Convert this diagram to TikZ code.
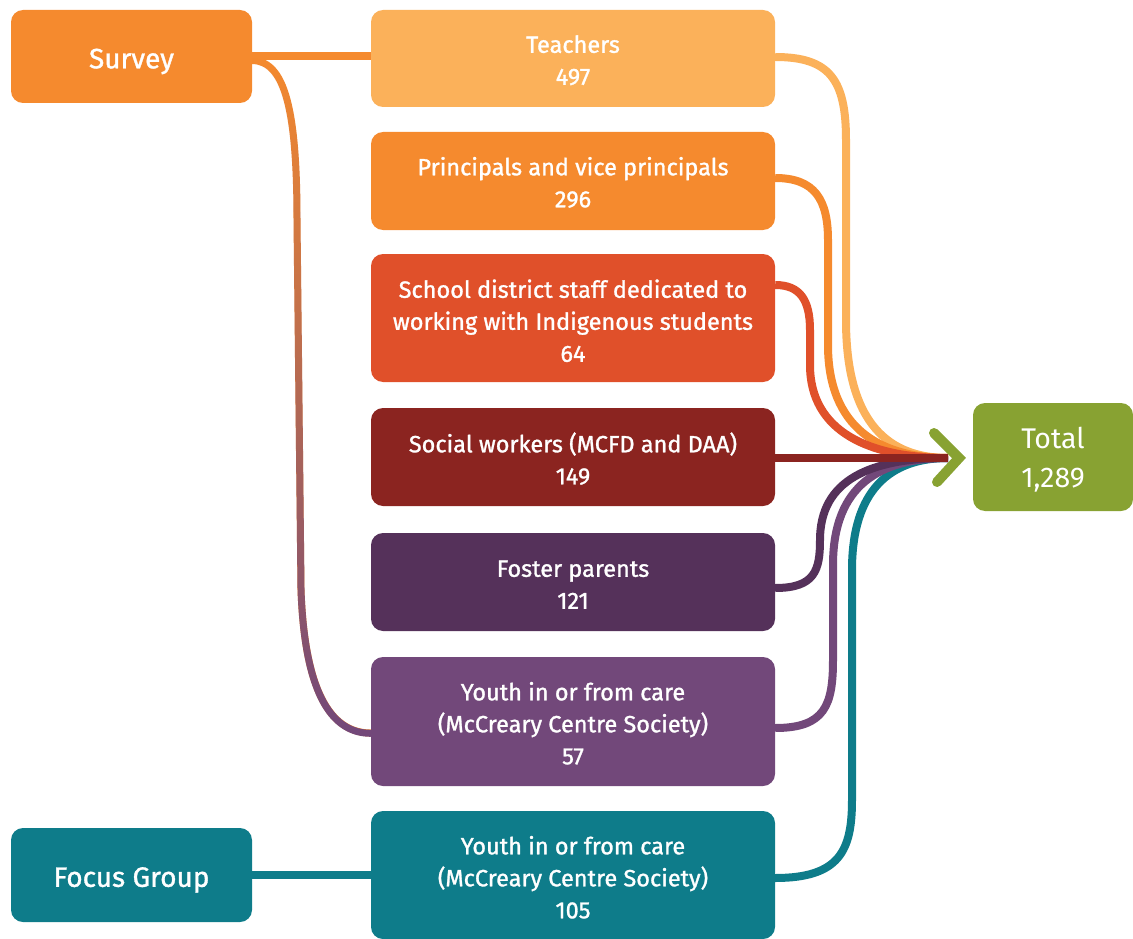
\documentclass[tikz,border=0pt]{standalone}
\usepackage{fontspec}
\setmainfont{Fira Sans}
\newfontfamily\medf{Fira Sans}[FakeBold=1.2]
\usetikzlibrary{calc,fadings}
\definecolor{lorange}{HTML}{FBB15A}
\definecolor{morange}{HTML}{F58A2E}
\definecolor{dred}{HTML}{E0502A}
\definecolor{maroon}{HTML}{8B2420}
\definecolor{dpurple}{HTML}{55315A}
\definecolor{mpurple}{HTML}{72487A}
\definecolor{teal}{HTML}{0E7C8A}
\definecolor{tgreen}{HTML}{88A232}
\tikzfading[name=fadedown, top color=transparent!100, middle color=transparent!80, bottom color=transparent!0]
\newcommand{\lowtext}[2]{\raisebox{-#1}[\height][\depth]{\begin{tabular}{@{}c@{}}#2\end{tabular}}}
\begin{document}
\begin{tikzpicture}[x=1pt,y=-1pt,
  box/.style={rectangle, rounded corners=12pt, inner sep=0pt, text=white, align=center, anchor=center},
  midbox/.style={box, minimum width=404pt, font=\medf\fontsize{23.5}{31.5}\selectfont},
  sidebox/.style={box, minimum width=241pt, font=\medf\fontsize{28}{34}\selectfont},
  conn/.style={line width=8pt},
]
\useasboundingbox (0,0) rectangle (1133,939);
% nodes
\node[sidebox, fill=morange, minimum height=93pt] (survey) at (131.5,56.5) {\lowtext{5pt}{Survey}};
\node[sidebox, fill=teal, minimum height=94pt] (focus) at (131.5,875) {\lowtext{5pt}{Focus Group}};
\node[midbox, fill=lorange, minimum height=97pt] (t) at (573,58.5) {\lowtext{4pt}{Teachers\\[0.5pt]497}};
\node[midbox, fill=morange, minimum height=98pt] (p) at (573,181) {\lowtext{4pt}{Principals and vice principals\\[0.5pt]296}};
\node[midbox, fill=dred, minimum height=128pt] (d) at (573,318) {\lowtext{5.5pt}{School district staff dedicated to\\[0.5pt]working with Indigenous students\\[0.5pt]64}};
\node[midbox, fill=maroon, minimum height=98pt] (s) at (573,457) {\lowtext{5pt}{Social workers (MCFD and DAA)\\[0.5pt]149}};
\node[midbox, fill=dpurple, minimum height=98pt] (f) at (573,582) {\lowtext{4.5pt}{Foster parents\\[0.5pt]121}};
\node[midbox, fill=mpurple, minimum height=129pt] (y1) at (573,721.5) {\lowtext{4.5pt}{Youth in or from care\\[0.5pt](McCreary Centre Society)\\[0.5pt]57}};
\node[midbox, fill=teal, minimum height=128pt] (y2) at (573,875) {\lowtext{5pt}{Youth in or from care\\[0.5pt](McCreary Centre Society)\\[0.5pt]105}};
\node[box, fill=tgreen, minimum width=160pt, minimum height=108pt, font=\fontsize{28.5}{34}\selectfont] (total) at (1053,457) {\lowtext{4pt}{Total\\[5pt]1,289}};
\coordinate (m) at (948,458);
% left connectors
\draw[conn, morange] (survey.east) -- (survey.east -| t.west);
\draw[conn, teal] (focus.east) -- (focus.east -| y2.west);
\draw[line width=7pt, morange] ([yshift=-4pt]survey.east) .. controls (285,61) and (297,110) .. (297,220) -- (301,590) .. controls (305,700) and (335,733) .. ([yshift=-11.5pt]y1.west);
\draw[line width=7pt, mpurple, path fading=fadedown] ([yshift=-4pt]survey.east) .. controls (285,61) and (297,110) .. (297,220) -- (301,590) .. controls (305,700) and (335,733) .. ([yshift=-11.5pt]y1.west);
% right connectors
\draw[conn, lorange] ([yshift=1.5pt]t.east) .. controls (830,57) and (846,80) .. (846,140) -- (846,320) .. controls (846,425) and (890,458) .. (m);
\draw[conn, morange] ([yshift=3pt]p.east) .. controls (815,178) and (828,200) .. (828,240) -- (828,345) .. controls (828,428) and (880,458) .. (m);
\draw[conn, dred] ([yshift=33pt]d.east) .. controls (800,285) and (810,300) .. (810,330) -- (810,365) .. controls (810,432) and (870,458) .. (m);
\draw[conn, teal] ([yshift=-3pt]y2.east) .. controls (840,878) and (852,850) .. (852,800) -- (852,570) .. controls (852,490) and (890,458) .. (m);
\draw[conn, mpurple] ([yshift=-6.5pt]y1.east) .. controls (825,728) and (833,705) .. (833,660) -- (833,565) .. controls (833,485) and (880,458) .. (m);
\draw[conn, dpurple] ([yshift=-6pt]f.east) .. controls (815,588) and (820,570) .. (820,540) .. controls (820,480) and (870,458) .. (m);
\draw[conn, maroon] ([yshift=-1pt]s.east) -- (m);
% arrow chevron
\draw[line width=10pt, tgreen, line cap=round, line join=miter] ($(m)+(-14,-25)$) -- ($(m)+(11,0)$) -- ($(m)+(-11,24)$);
\end{tikzpicture}
\end{document}
